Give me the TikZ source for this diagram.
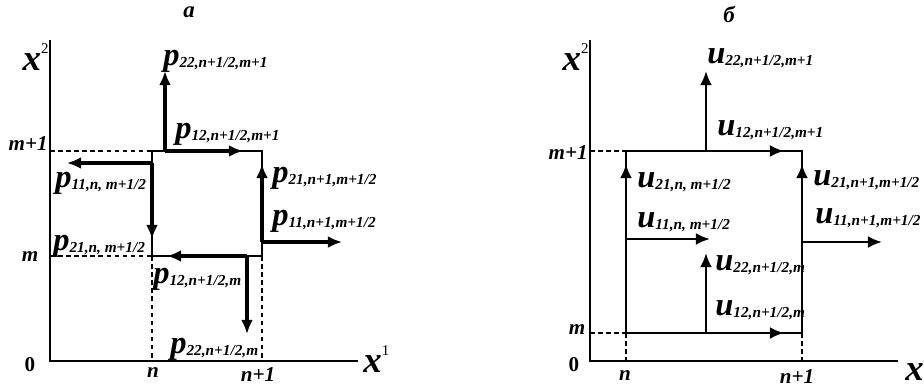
\documentclass[tikz,border=0pt]{standalone}
\usepackage{fontspec}
\setmainfont{Liberation Serif}
\usetikzlibrary{arrows.meta}
\newcommand\vlab[2]{{\fontsize{18.5}{18.5}\selectfont #1}\raisebox{-1.5pt}{\fontsize{8.7}{9}\selectfont #2}}
\newcommand\axlab[2]{{\fontsize{21}{21}\selectfont\bfseries\itshape #1}\raisebox{9.5pt}{\fontsize{8.5}{8.5}\selectfont #2}}
\begin{document}
\begin{tikzpicture}[x=0.02cm,y=-0.02cm,
  axis/.style={line width=0.8pt},
  guide/.style={line width=0.7pt,dash pattern=on 2.6pt off 2pt},
  edge/.style={line width=1.25pt},
  edgeb/.style={line width=1.45pt},
  vec/.style={line width=1.75pt,-{Latex[length=8pt,width=6.8pt]}},
  vecb/.style={line width=1.45pt,-{Latex[length=8pt,width=6.8pt]}},
  lbl/.style={inner sep=0,anchor=base west,font=\bfseries\itshape},
  tick/.style={inner sep=0,font=\fontsize{12}{12}\selectfont\bfseries\itshape},
  title/.style={inner sep=0,font=\fontsize{13}{13}\selectfont\bfseries\itshape}]
\useasboundingbox (0,0) rectangle (924,390);
% ---------------- panel a ----------------
\node[title] (ta) at (189,12) {а};
\coordinate (aO) at (50,361);
\coordinate (aY) at (50,40);
\coordinate (aX) at (358,361);
\draw[axis] (aY) -- (aO) -- (aX);
\coordinate (aTL) at (152,151);
\coordinate (aTR) at (262,151);
\coordinate (aBL) at (152,256);
\coordinate (aBR) at (262,256);
\coordinate (aYm1) at (50,151);
\coordinate (aYm) at (50,256);
\coordinate (aXn) at (152,361);
\coordinate (aXn1) at (262,361);
\draw[guide] (aYm1) -- (aTL);
\draw[guide] (aYm) -- (aBL);
\draw[guide] (aBL) -- (aXn);
\draw[guide] (aBR) -- (aXn1);
\draw[edge] (aTL) -- (aTR) -- (aBR) -- (aBL) -- cycle;
\coordinate (aT1) at (165,151);
\coordinate (aT1u) at (165,71);
\coordinate (aT1r) at (243,151);
\coordinate (aL1) at (152,163);
\coordinate (aL1l) at (67,163);
\coordinate (aL1d) at (152,239);
\coordinate (aR1) at (262,242);
\coordinate (aR1u) at (262,164);
\coordinate (aR1r) at (342,242);
\coordinate (aB1) at (247,256);
\coordinate (aB1l) at (167,256);
\coordinate (aB1d) at (247,334);
\draw[vec] (aT1) -- (aT1u);
\draw[vec] (aT1) -- (aT1r);
\draw[vec] (aL1) -- (aL1l);
\draw[vec] (aL1) -- (aL1d);
\draw[vec] (aR1) -- (aR1u);
\draw[vec] (aR1) -- (aR1r);
\draw[vec] (aB1) -- (aB1l);
\draw[vec] (aB1) -- (aB1d);
\node[lbl] (la1) at (163,65) {\vlab{p}{22,n+1/2,m+1}};
\node[lbl] (la2) at (175,138) {\vlab{p}{12,n+1/2,m+1}};
\node[lbl] (la3) at (55,187) {\vlab{p}{11,n, m+1/2}};
\node[lbl] (la4) at (272,182) {\vlab{p}{21,n+1,m+1/2}};
\node[lbl] (la5) at (53,250) {\vlab{p}{21,n, m+1/2}};
\node[lbl] (la6) at (272,225) {\vlab{p}{11,n+1,m+1/2}};
\node[lbl] (la7) at (153,283) {\vlab{p}{12,n+1/2,m}};
\node[lbl] (la8) at (170,353) {\vlab{p}{22,n+1/2,m}};
\node[tick,anchor=base east] (am1) at (48,150) {m+1};
\node[tick] (am) at (30,257) {m};
\node[tick] (an) at (153,373) {n};
\node[tick] (an1) at (258,375) {n+1};
\node[tick,font=\fontsize{12}{12}\selectfont\bfseries] (a0) at (30,365) {0};
\node[inner sep=0,anchor=base east] (ax2) at (49,70) {\axlab{x}{2}};
\node[inner sep=0,anchor=base west] (ax1) at (363,372) {\axlab{x}{1}};
% ---------------- panel b ----------------
\node[title] (tb) at (729,14) {б};
\coordinate (bO) at (590,361);
\coordinate (bY) at (590,40);
\coordinate (bX) at (898,361);
\draw[axis] (bY) -- (bO) -- (bX);
\coordinate (bTL) at (626,151);
\coordinate (bTR) at (802,151);
\coordinate (bBL) at (626,333);
\coordinate (bBR) at (802,333);
\coordinate (bYm1) at (590,151);
\coordinate (bYm) at (590,333);
\coordinate (bXn) at (626,361);
\coordinate (bXn1) at (802,361);
\draw[guide] (bYm1) -- (bTL);
\draw[guide] (bYm) -- (bBL);
\draw[guide] (bBL) -- (bXn);
\draw[guide] (bBR) -- (bXn1);
\draw[edgeb] (bTL) -- (bTR) -- (bBR) -- (bBL) -- cycle;
\coordinate (bT1) at (706,151);
\coordinate (bT1u) at (706,71);
\coordinate (bT1r) at (784,151);
\coordinate (bL1) at (626,239);
\coordinate (bL1u) at (626,164);
\coordinate (bL1r) at (710,239);
\coordinate (bR1) at (802,242);
\coordinate (bR1u) at (802,164);
\coordinate (bR1r) at (882,242);
\coordinate (bB1) at (706,333);
\coordinate (bB1u) at (706,253);
\coordinate (bB1r) at (784,333);
\draw[vecb] (bT1) -- (bT1u);
\draw[vecb] (bT1) -- (bT1r);
\draw[vecb] (bL1) -- (bL1u);
\draw[vecb] (bL1) -- (bL1r);
\draw[vecb] (bR1) -- (bR1u);
\draw[vecb] (bR1) -- (bR1r);
\draw[vecb] (bB1) -- (bB1u);
\draw[vecb] (bB1) -- (bB1r);
\node[lbl] (lb1) at (707,63) {\vlab{u}{22,n+1/2,m+1}};
\node[lbl] (lb2) at (717,135) {\vlab{u}{12,n+1/2,m+1}};
\node[lbl] (lb3) at (637,187) {\vlab{u}{21,n, m+1/2}};
\node[lbl] (lb4) at (813,185) {\vlab{u}{21,n+1,m+1/2}};
\node[lbl] (lb5) at (637,227) {\vlab{u}{11,n, m+1/2}};
\node[lbl] (lb6) at (815,223) {\vlab{u}{11,n+1,m+1/2}};
\node[lbl] (lb7) at (715,270) {\vlab{u}{22,n+1/2,m}};
\node[lbl] (lb8) at (715,315) {\vlab{u}{12,n+1/2,m}};
\node[tick,anchor=base east] (bm1) at (588,159) {m+1};
\node[tick] (bm) at (577,330) {m};
\node[tick] (bn) at (625,376) {n};
\node[tick] (bn1) at (797,377) {n+1};
\node[tick,font=\fontsize{12}{12}\selectfont\bfseries] (b0) at (574,365) {0};
\node[inner sep=0,anchor=base east] (bx2) at (589,70) {\axlab{x}{2}};
\node[inner sep=0,anchor=base west] (bx1) at (905,380) {\axlab{x}{1}};
\end{tikzpicture}
\end{document}
